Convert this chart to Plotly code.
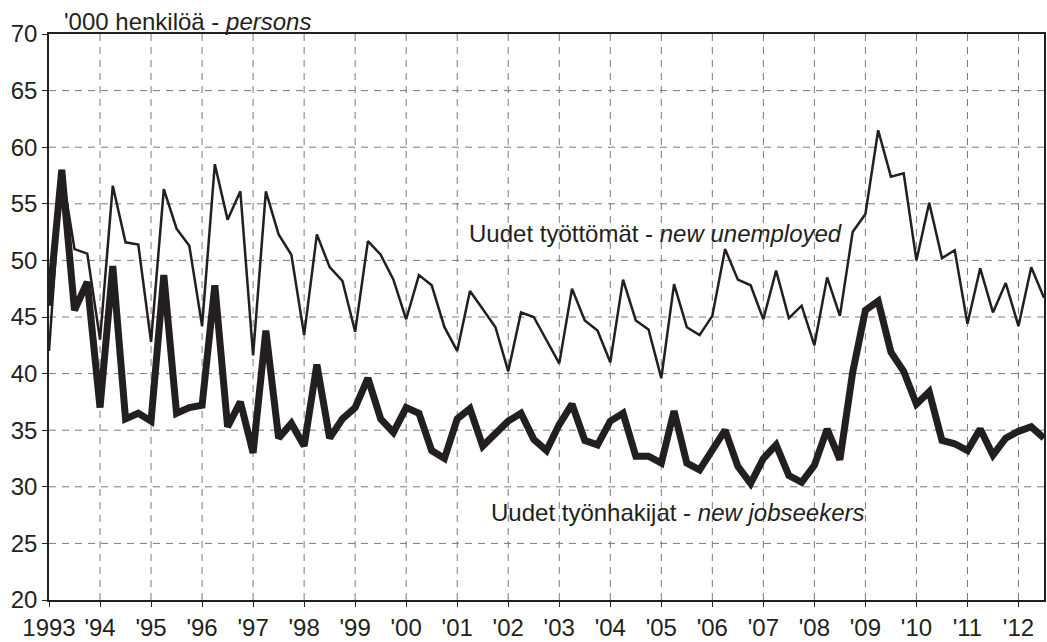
import plotly.graph_objects as go

# Quarterly data, 1993Q1 .. 2012Q3
start_year = 1993
new_unemployed = [
    42.0, 58.0, 51.0, 50.6,   # 1993
    43.0, 56.6, 51.6, 51.4,   # 1994
    42.8, 56.3, 52.8, 51.3,   # 1995
    44.2, 58.5, 53.6, 56.1,   # 1996
    41.6, 56.1, 52.3, 50.5,   # 1997
    43.4, 52.3, 49.4, 48.2,   # 1998
    43.7, 51.7, 50.5, 48.3,   # 1999
    44.8, 48.7, 47.8, 44.1,   # 2000
    42.0, 47.3, 45.7, 44.1,   # 2001
    40.2, 45.4, 45.0, 43.0,   # 2002
    40.9, 47.5, 44.7, 43.8,   # 2003
    41.0, 48.3, 44.7, 43.9,   # 2004
    39.6, 47.9, 44.1, 43.4,   # 2005
    45.1, 51.0, 48.3, 47.8,   # 2006
    44.8, 49.1, 44.9, 46.0,   # 2007
    42.5, 48.5, 45.1, 52.5,   # 2008
    54.1, 61.5, 57.4, 57.7,   # 2009
    50.0, 55.1, 50.2, 50.9,   # 2010
    44.4, 49.3, 45.4, 48.0,   # 2011
    44.2, 49.4, 46.7,         # 2012
]
new_jobseekers = [
    46.0, 58.0, 45.6, 48.1,   # 1993
    37.0, 49.5, 36.0, 36.5,   # 1994
    35.8, 48.7, 36.5, 37.0,   # 1995
    37.2, 47.8, 35.3, 37.5,   # 1996
    33.0, 43.8, 34.3, 35.6,   # 1997
    33.6, 40.8, 34.3, 36.0,   # 1998
    37.0, 39.6, 36.0, 34.8,   # 1999
    37.0, 36.5, 33.2, 32.5,   # 2000
    36.0, 36.9, 33.6, 34.6,   # 2001
    35.8, 36.5, 34.2, 33.2,   # 2002
    35.5, 37.3, 34.1, 33.7,   # 2003
    35.8, 36.5, 32.7, 32.7,   # 2004
    32.1, 36.7, 32.1, 31.5,   # 2005
    33.4, 35.0, 31.8, 30.3,   # 2006
    32.5, 33.7, 31.0, 30.4,   # 2007
    31.9, 35.1, 32.4, 40.1,   # 2008
    45.6, 46.4, 41.9, 40.2,   # 2009
    37.3, 38.4, 34.1, 33.8,   # 2010
    33.2, 35.1, 32.8, 34.3,   # 2011
    34.9, 35.3, 34.3,         # 2012
]
x_quarters = [start_year + i * 0.25 for i in range(len(new_unemployed))]

year_ticks = list(range(1993, 2013))
year_labels = ["1993"] + ["'" + str(y)[2:] for y in range(1994, 2013)]
y_ticks = [20, 25, 30, 35, 40, 45, 50, 55, 60, 65, 70]

INK = "#231f20"
FONT = "Liberation Sans, Arial, Helvetica, sans-serif"
FS = 24

fig = go.Figure()
fig.add_trace(go.Scatter(x=x_quarters, y=new_unemployed, mode="lines",
                         line=dict(color=INK, width=2.5), showlegend=False))
fig.add_trace(go.Scatter(x=x_quarters, y=new_jobseekers, mode="lines",
                         line=dict(color=INK, width=7), showlegend=False))

# dashed grid drawn as shapes so the dash pattern can be controlled
for yr in year_ticks[1:]:
    fig.add_shape(type="line", xref="x", yref="y", x0=yr, x1=yr, y0=20, y1=70,
                  line=dict(color="#7a7a7a", width=1, dash="7px,6px"), layer="below")
for v in y_ticks[1:-1]:
    fig.add_shape(type="line", xref="x", yref="y", x0=1993, x1=2012.5, y0=v, y1=v,
                  line=dict(color="#7a7a7a", width=1, dash="7px,6px"), layer="below")

fig.update_layout(
    width=1047, height=642,
    margin=dict(l=49, r=1, t=34, b=40),
    paper_bgcolor="white", plot_bgcolor="white",
    font=dict(family=FONT, size=FS, color=INK),
    xaxis=dict(range=[1993, 2012.5], tickvals=year_ticks, ticktext=year_labels,
               showgrid=False, zeroline=False, showline=True, linecolor=INK, linewidth=1.5,
               mirror=True, ticks="outside", ticklen=5, tickcolor=INK,
               tickfont=dict(family=FONT, size=FS, color=INK)),
    yaxis=dict(range=[20, 70], tickvals=y_ticks,
               showgrid=False, zeroline=False, showline=True, linecolor=INK, linewidth=1.5,
               mirror=True, ticks="outside", ticklen=5, tickcolor=INK,
               tickfont=dict(family=FONT, size=FS, color=INK)),
    annotations=[
        dict(text="'000 henkilöä - <i>persons</i>", xref="paper", yref="paper",
             x=0.013, y=1.0, xanchor="left", yanchor="bottom", showarrow=False,
             font=dict(family=FONT, size=FS, color=INK), yshift=-3),
        dict(text="Uudet työttömät - <i>new unemployed</i>", xref="x", yref="y",
             x=2001.2, y=52.4, xanchor="left", yanchor="middle", showarrow=False,
             font=dict(family=FONT, size=FS, color=INK)),
        dict(text="Uudet työnhakijat - <i>new jobseekers</i>", xref="x", yref="y",
             x=2001.62, y=27.7, xanchor="left", yanchor="middle", showarrow=False,
             font=dict(family=FONT, size=FS, color=INK)),
    ],
)

fig.write_html("out.html", config={"displayModeBar": False},
               post_script="document.body.style.margin='0';")
